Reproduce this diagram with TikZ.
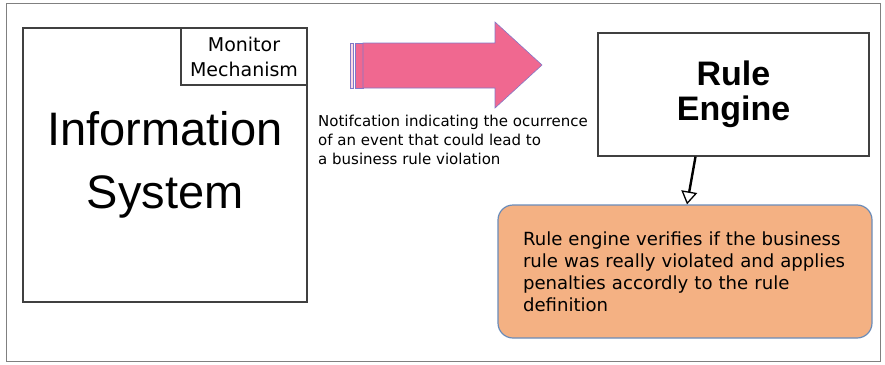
\documentclass[tikz,border=0pt]{standalone}
\usepackage{fontspec}
\setmainfont{DejaVu Sans}
\newfontfamily\arialfont{Liberation Sans}
\usetikzlibrary{arrows.meta}

\definecolor{notepink}{RGB}{240,104,144}
\definecolor{noteedge}{RGB}{130,120,200}
\definecolor{peach}{RGB}{244,177,131}
\definecolor{peachedge}{RGB}{106,140,185}

\begin{document}
\begin{tikzpicture}[x=1pt, y=-1pt,
    system/.style ={draw=black!75, line width=1.3pt, inner sep=0pt},
    result/.style ={draw=peachedge, line width=1.2pt, fill=peach,
                    rounded corners=15pt, inner sep=0pt},
    flow/.style ={line width=2.4pt, -{Triangle[open, length=13pt, width=16pt, line width=1.3pt]}}]
   \useasboundingbox (0,0) rectangle (885,364);
   \draw[black!50, line width=0.8pt] (6,3) rectangle (880,361);
   % the information system and its monitor
   \node[system, minimum width=284pt, minimum height=274pt, align=center,
         font=\arialfont\fontsize{47}{63}\selectfont] (info) at (165,165)
         {Information\\System};
   \node[system, minimum width=126pt, minimum height=57pt, align=center,
         font=\fontsize{19}{25}\selectfont] (monitor) at (244,56.5)
         {Monitor\\Mechanism};
   % notification arrow
   \draw[noteedge, line width=0.6pt, fill=notepink!25] (350,43) rectangle (353,88);
   \draw[noteedge, line width=0.6pt, fill=notepink] (355,43) rectangle (363,88);
   \draw[noteedge, line width=0.6pt, fill=notepink]
        (363,43) -- (495,43) -- (495,22) -- (542,65) -- (495,108)
        -- (495,88) -- (363,88) -- cycle;
   \node[anchor=west, align=left, inner sep=0pt,
         font=\fontsize{15}{19}\selectfont] (note) at (318,140)
         {Notifcation indicating the ocurrence\\of an event that could lead to\\a business rule violation};
   % rule engine
   \node[system, minimum width=271pt, minimum height=123pt, align=center,
         font=\arialfont\bfseries\fontsize{34}{35}\selectfont] (engine) at (733.5,94.5)
         {Rule\\Engine};
   \node[result, minimum width=374pt, minimum height=133pt, text width=324pt,
         align=left, font=\fontsize{18.1}{22}\selectfont] (verify) at (685,271.5)
         {Rule engine verifies if the business\\rule was really violated and applies\\penalties accordly to the rule\\definition};
   \draw[flow] ([xshift=-38pt]engine.south) to ([xshift=2pt]verify.north);
 \end{tikzpicture}
\end{document}
